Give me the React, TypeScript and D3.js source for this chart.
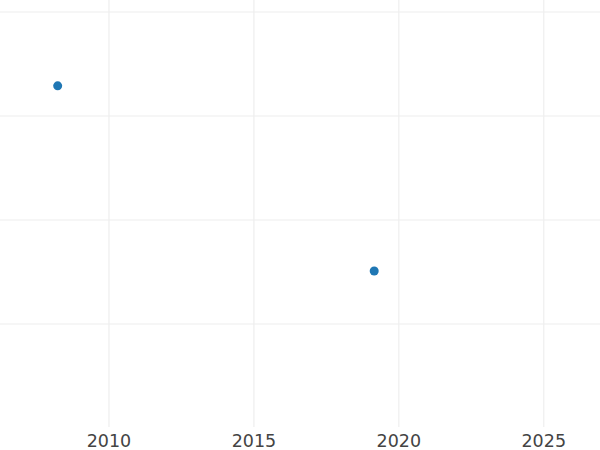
import React from "react";
import * as d3 from "d3";

const years = [2008.23, 2019.15];
const values = [3.29, 1.51];
const xTicks = [2010, 2015, 2020, 2025];
const yTicks = [1, 2, 3, 4];

export default function App() {
  React.useEffect(() => {
    document.body.style.margin = "0";
  }, []);
  const width = 600;
  const height = 450;
  const plotBottom = 427;
  const x = d3.scaleLinear().domain([2006.24, 2026.94]).range([0, width]);
  const y = d3.scaleLinear().domain([0, 4]).range([428, 12]);
  return (
    <svg width={width} height={height} style={{ display: "block", background: "#fff" }}>
      <g>
        {yTicks.map((t) => (
          <line key={"y" + t} x1={0} x2={width} y1={y(t)} y2={y(t)} stroke="#eee" strokeWidth={1.2} />
        ))}
        {xTicks.map((t) => (
          <line key={"x" + t} x1={x(t)} x2={x(t)} y1={0} y2={plotBottom} stroke="#eee" strokeWidth={1.2} />
        ))}
      </g>
      <g>
        {years.map((yr, i) => (
          <circle key={i} cx={x(yr)} cy={y(values[i])} r={4.5} fill="#1f77b4" />
        ))}
      </g>
      <g fontFamily="DejaVu Sans" fontSize={17.5} fill="#444" textAnchor="middle">
        {xTicks.map((t) => (
          <text key={t} x={x(t)} y={447}>
            {t}
          </text>
        ))}
      </g>
    </svg>
  );
}
